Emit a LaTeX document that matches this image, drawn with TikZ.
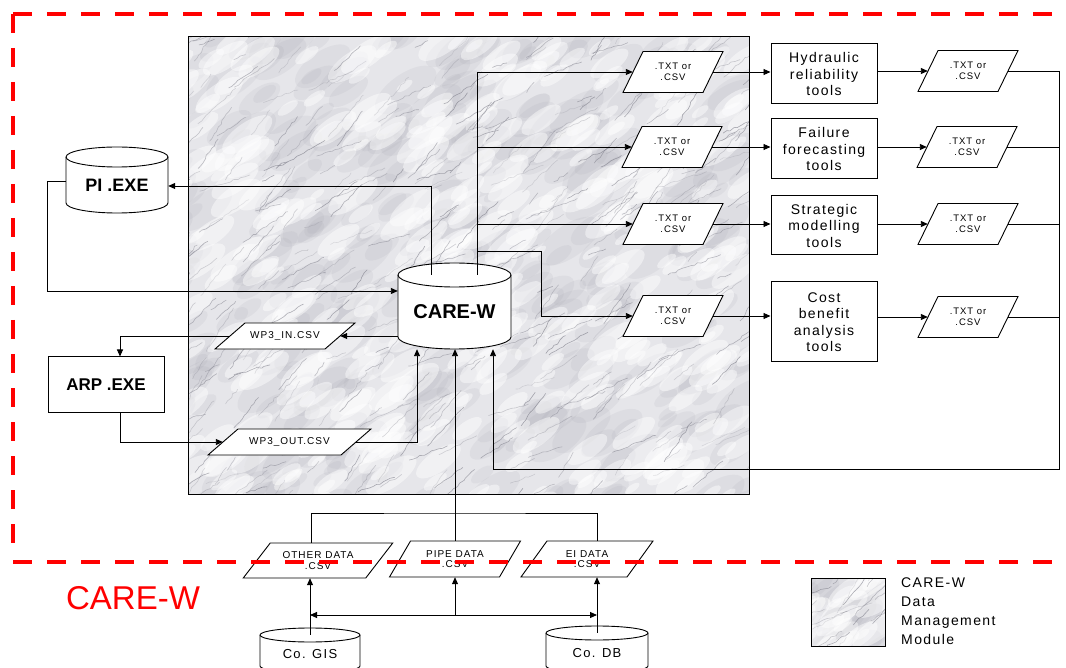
\documentclass[tikz,border=0pt]{standalone}
\usepackage{fontspec}
\setmainfont{Liberation Sans}
\newfontfamily\lsp[LetterSpace=10]{Liberation Sans}
\usetikzlibrary{arrows.meta,decorations.pathmorphing}
\definecolor{marblebg}{RGB}{230,230,234}
\definecolor{vein}{RGB}{105,105,118}
\definecolor{cloud}{RGB}{150,150,162}
\definecolor{dashred}{RGB}{255,0,0}

\newcommand\marble[5]{%
  \begin{scope}
    \clip (#1,#2) rectangle (#3,#4);
    \fill[marblebg] (#1,#2) rectangle (#3,#4);
    \foreach \i in {1,...,#5}{%
      \pgfmathsetmacro\mx{#1-30+rnd*(#3-#1+30)}%
      \pgfmathsetmacro\my{#2+rnd*(#4-#2+30)}%
      \pgfmathsetmacro\mw{10+rnd*26}%
      \fill[cloud,opacity=0.10,rotate around={35:(\mx,\my)}] (\mx,\my) ellipse[x radius=\mw pt,y radius=0.45*\mw pt];
    }%
    \foreach \i in {1,...,#5}{%
      \pgfmathsetmacro\mx{#1-30+rnd*(#3-#1+30)}%
      \pgfmathsetmacro\my{#2+rnd*(#4-#2+30)}%
      \pgfmathsetmacro\mw{8+rnd*22}%
      \fill[white,opacity=0.45,rotate around={35:(\mx,\my)}] (\mx,\my) ellipse[x radius=\mw pt,y radius=0.4*\mw pt];
    }%
    \foreach \i in {1,...,#5}{%
      \pgfmathsetmacro\mx{#1-40+rnd*(#3-#1+40)}%
      \pgfmathsetmacro\my{#2+rnd*(#4-#2+40)}%
      \pgfmathsetmacro\ml{12+rnd*45}%
      \pgfmathsetmacro\ma{15+rnd*45}%
      \pgfmathsetmacro\mo{0.15+rnd*0.4}%
      \draw[vein,opacity=\mo,line width=0.6pt,decorate,decoration={random steps,segment length=4pt,amplitude=1pt}] (\mx,\my) -- ++({\ml*cos(\ma)},{-\ml*sin(\ma)});
    }%
  \end{scope}}

% cylinder: [node opts]{name}{cx}{ytop}{ybot}{rx}{ry}{text}
\newcommand\cylnode[8][]{%
  \draw[fill=white,line width=0.9pt] ({#3-#6},{#4+#7}) -- ({#3-#6},{#5-#7})
     arc[start angle=180,end angle=360,x radius=#6pt,y radius=#7pt]
     -- ({#3+#6},{#4+#7})
     arc[start angle=0,end angle=180,x radius=#6pt,y radius=#7pt] -- cycle;
  \draw[line width=0.9pt] ({#3-#6},{#4+#7}) arc[start angle=180,end angle=360,x radius=#6pt,y radius=#7pt];
  \node[inner sep=0pt,minimum width={2*#6pt},minimum height={(#5-#4-#7)*1pt},#1] (#2) at (#3,{(#4+#7+#5)/2}) {#8};}

% parallelogram: [node opts]{name}{cx}{cy}{w}{h}{slant}{text}
\newcommand\paranode[8][]{%
  \draw[fill=white,line width=0.9pt] ({#3-#5/2+#7},{#4-#6/2}) -- ({#3+#5/2+#7},{#4-#6/2})
     -- ({#3+#5/2-#7},{#4+#6/2}) -- ({#3-#5/2-#7},{#4+#6/2}) -- cycle;
  \node[inner sep=0pt,minimum width=#5pt,minimum height=#6pt,align=center,#1] (#2) at (#3,#4) {#8};}

\tikzset{
  conn/.style={line width=0.9pt},
  arr/.style={conn,-{Triangle[length=7pt,width=6pt]}},
  both/.style={conn,{Triangle[length=7pt,width=6pt]}-{Triangle[length=7pt,width=6pt]}},
  tool/.style={draw,line width=1pt,fill=white,minimum width=106pt,inner sep=0pt,align=center,font={\lsp\fontsize{14}{16.5}\selectfont}},
  ptxt/.style={font={\lsp\fontsize{9.5}{10.5}\selectfont}},
  dtxt/.style={font={\lsp\fontsize{10}{10.5}\selectfont}},
  wtxt/.style={font={\lsp\fontsize{10}{12}\selectfont}},
  btxt/.style={font={\bfseries\fontsize{18}{20}\selectfont}},
  ctxt/.style={font={\lsp\fontsize{13}{15}\selectfont}},
  redline/.style={dashred,line width=4.5pt,dash pattern=on 19pt off 15pt},
}

\begin{document}
\begin{tikzpicture}[x=1pt,y=-1pt]
\useasboundingbox (0,0) rectangle (1066,668);
\clip (0,0) rectangle (1066,668);
\fill[white] (0,0) rectangle (1066,668);

% marble data management module
\pgfmathsetseed{11}
\marble{188}{37}{749}{494}{400}
\draw[line width=1pt] (188,37) rectangle (749,494);

% red dashed border (top and left)
\draw[redline] (13,14) -- (1080,14);
\draw[redline] (13,14) -- (13,548);

% cylinders
\cylnode[btxt]{pi}{117}{147}{213}{51}{10}{PI .EXE}
\cylnode[font={\bfseries\fontsize{20}{22}\selectfont}]{care}{454.5}{263}{349}{56.5}{12}{CARE-W}
\cylnode[ctxt]{gis}{310}{628}{673}{50}{7}{Co. GIS}
\cylnode[ctxt]{db}{597}{626}{673}{51}{7}{Co. DB}

% ARP box
\node[draw,line width=1pt,fill=white,minimum width=116pt,minimum height=55pt,inner sep=0pt,font={\bfseries\fontsize{17}{19}\selectfont}] (arp) at (106,384.5) {ARP .EXE};

% WP3 files
\paranode[wtxt]{wpin}{285}{336}{110}{26}{15}{WP3\_IN.CSV}
\paranode[wtxt]{wpout}{289.5}{442}{133}{26}{15}{WP3\_OUT.CSV}

% left file column
\paranode[ptxt]{p1}{673}{72}{80}{41}{10}{.TXT or\\.CSV}
\paranode[ptxt]{p2}{672}{147}{80}{41}{10}{.TXT or\\.CSV}
\paranode[ptxt]{p3}{673}{224}{80}{41}{10}{.TXT or\\.CSV}
\paranode[ptxt]{p4}{673}{316}{80}{41}{10}{.TXT or\\.CSV}

% tools
\node[tool,minimum height=60pt] (h1) at (824,74) {Hydraulic\\reliability\\tools};
\node[tool,minimum height=60pt] (h2) at (824,149) {Failure\\forecasting\\tools};
\node[tool,minimum height=59pt] (h3) at (824,225.5) {Strategic\\modelling\\tools};
\node[tool,minimum height=80pt] (h4) at (824,322) {Cost\\benefit\\analysis\\tools};

% right file column
\paranode[ptxt]{r1}{968}{71}{80}{41}{10}{.TXT or\\.CSV}
\paranode[ptxt]{r2}{967}{147}{80}{41}{10}{.TXT or\\.CSV}
\paranode[ptxt]{r3}{968}{224}{80}{41}{10}{.TXT or\\.CSV}
\paranode[ptxt]{r4}{968}{317}{80}{41}{10}{.TXT or\\.CSV}

% input data files
\paranode[dtxt]{other}{318}{560.5}{122.5}{35}{13.5}{OTHER DATA\\.CSV}
\paranode[dtxt]{pipe}{455}{559}{110}{36}{10.5}{PIPE DATA\\.CSV}
\paranode[dtxt]{ei}{587}{559}{106}{36}{13}{EI DATA\\.CSV}

% red dashed border (bottom, drawn over the data files)
\draw[redline] (13,562) -- (1080,562);

% connectors around CARE-W
\draw[arr] ([xshift=-23.5pt]care.north) |- ([yshift=-1pt]pi.east);
\draw[arr] ([yshift=4pt]pi.west) -- ++(-18,0) |- ([yshift=21pt]care.west);
\draw[arr] ([yshift=-24pt]care.west) -- (wpin.east);
\draw[arr] (wpin.west) -| ([xshift=14pt]arp.north);
\draw[arr] ([xshift=14pt]arp.south) |- (wpout.west);
\draw[arr] (wpout.east) -| ([xshift=-37.5pt]care.south);

% outputs to tool chain
\coordinate (trunk) at ([xshift=22.5pt]care.north);
\coordinate (b4) at (541,251);
\draw[arr] (trunk) |- (p1.west);
\draw[arr] (trunk |- p2.west) -- (p2.west);
\draw[arr] (trunk |- p3.west) -- (p3.west);
\draw[arr] (trunk |- b4) -- (b4) |- (p4.west);

\draw[arr] (p1.east) -- (p1.east -| h1.west);
\draw[arr] (p2.east) -- (p2.east -| h2.west);
\draw[arr] (p3.east) -- (p3.east -| h3.west);
\draw[arr] (p4.east) -- (p4.east -| h4.west);

\draw[arr] (h1.east |- r1.west) -- (r1.west);
\draw[arr] (h2.east |- r2.west) -- (r2.west);
\draw[arr] (h3.east |- r3.west) -- (r3.west);
\draw[arr] (h4.east |- r4.west) -- (r4.west);

\coordinate (rbus) at (1059,469);
\draw[conn] (r1.east) -- (r1.east -| rbus);
\draw[conn] (r2.east) -- (r2.east -| rbus);
\draw[conn] (r3.east) -- (r3.east -| rbus);
\draw[conn] (r4.east) -- (r4.east -| rbus);
\draw[arr] (r1.east -| rbus) -- (rbus) -| ([xshift=38.5pt]care.south);

% input data connectors
\coordinate (jt) at (455,513);
\coordinate (jb) at (455,615);
\draw[arr] (pipe.north) -- (pipe.north |- care.south);
\draw[conn] ([xshift=-7pt]other.north) |- (jt) -| ([xshift=10pt]ei.north);
\draw[arr] (gis.north) -- (gis.north |- other.south);
\draw[arr] (db.north) -- (db.north |- ei.south);
\draw[both] (gis.north |- jb) -- (db.north |- jb);
\draw[arr] (jb) -- (pipe.south);

% title
\node[text=dashred,inner sep=0pt,font={\fontsize{33}{36}\selectfont}] (title) at (133,598) {CARE-W};

% legend
\pgfmathsetseed{5}
\marble{811}{578}{885}{646}{30}
\draw[line width=1pt] (811,578) rectangle (885,646);
\node[anchor=north west,inner sep=0pt,align=left,font={\lsp\fontsize{14}{18.7}\selectfont}] (legend) at (901,578) {CARE-W\\Data\\Management\\Module};
\end{tikzpicture}
\end{document}
